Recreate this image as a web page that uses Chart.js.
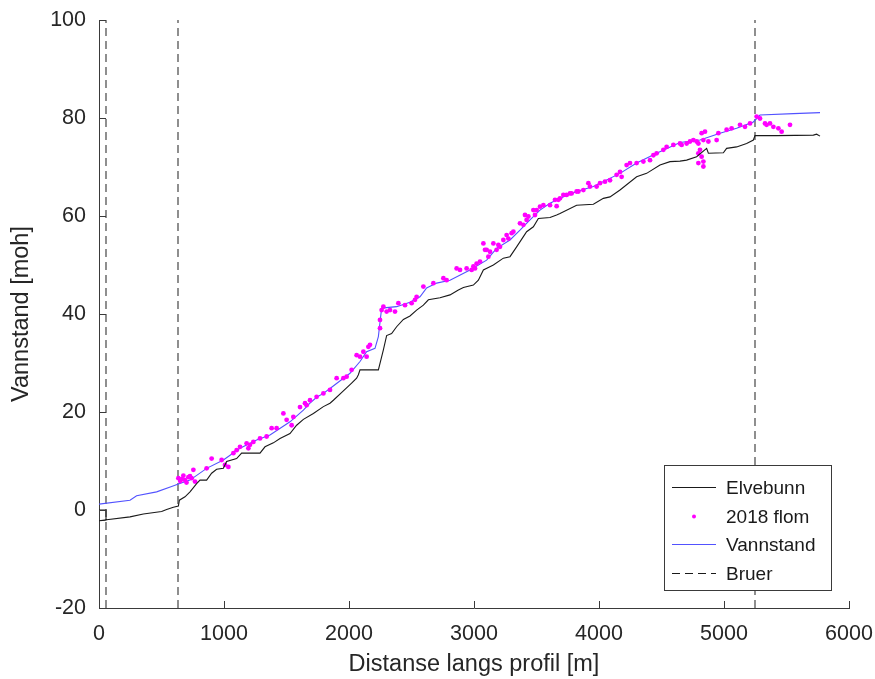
<!DOCTYPE html>
<html>
<head>
<meta charset="utf-8">
<script src="https://cdn.jsdelivr.net/npm/chart.js@4.4.1/dist/chart.umd.min.js"></script>
<style>
  html, body { margin: 0; padding: 0; background: #fff; }
  #wrap { width: 875px; height: 679px; }
</style>
</head>
<body>
<div id="wrap"><canvas id="profil" width="875" height="679"></canvas></div>
<script>
// Elvebunn (river bed)
const bedX = [0, 56, 56, 0, 61, 248, 355, 501, 541, 595, 635, 643, 688, 728, 781, 808, 861, 901, 941, 995,
  1021, 1101, 1141, 1288, 1328, 1395, 1448, 1528, 1581, 1635, 1715, 1795, 1848, 1875, 1955, 2021, 2061, 2075, 2088, 2235,
  2275, 2301, 2341, 2381, 2435, 2488, 2541, 2595, 2635, 2728, 2808, 2875, 2915, 2995, 3035, 3075, 3155, 3235, 3288, 3341,
  3395, 3421, 3475, 3515, 3608, 3661, 3688, 3821, 3955, 4035, 4088, 4168, 4301, 4381, 4488, 4568, 4648, 4701, 4781, 4861,
  4875, 4995, 5021, 5101, 5181, 5235, 5248, 5421, 5715, 5741, 5768];
const bedY = [0, 0, -2.1, -2.2, -2.0, -1.4, -0.8, -0.3, 0.1, 0.55, 0.8, 2.0, 2.7, 3.7, 5.4, 6.1, 6.1, 7.5, 8.3, 8.5,
  9.9, 10.5, 11.6, 11.6, 12.9, 13.7, 14.6, 15.6, 17.3, 18.5, 19.7, 21.1, 21.8, 22.4, 24.3, 25.9, 26.9, 27.6, 28.6, 28.6,
  32.7, 35.6, 36.0, 37.4, 38.9, 39.6, 40.8, 41.8, 42.9, 43.3, 43.9, 44.9, 45.4, 45.9, 46.9, 49.0, 50.0, 51.4, 51.7, 53.7,
  55.8, 56.8, 57.8, 59.5, 59.7, 60.2, 60.5, 62.2, 62.4, 63.6, 63.9, 65.3, 68.0, 68.7, 70.4, 71.1, 71.2, 71.4, 72.1, 73.8,
  72.8, 72.9, 73.8, 74.1, 74.8, 75.5, 76.4, 76.4, 76.5, 76.7, 76.3];

// Vannstand (water level)
const waterX = [0, 248, 301, 461, 581, 635, 728, 861, 995, 1128, 1261, 1368, 1528, 1635, 1688, 1741, 1795, 1848, 2008, 2088,
  2141, 2208, 2235, 2261, 2381, 2488, 2568, 2621, 2701, 2808, 2968, 3101, 3181, 3288, 3368, 3448, 3528, 3608, 3688, 3821,
  3955, 4168, 4301, 4461, 4648, 4808, 4968, 5101, 5235, 5288, 5555, 5768];
const waterY = [1.2, 2.0, 2.9, 3.7, 4.8, 5.3, 6.1, 8.5, 10.2, 12.6, 14.3, 15.3, 18.0, 20.4, 21.8, 23.0, 23.8, 24.8, 27.9, 30.3,
  32.3, 33.0, 35.4, 41.2, 41.5, 42.4, 43.5, 45.3, 46.3, 46.9, 49.0, 51.0, 53.4, 55.1, 57.1, 59.2, 61.2, 62.6, 63.6, 65.0,
  66.0, 68.7, 70.8, 72.8, 75.0, 75.5, 76.9, 77.9, 79.2, 80.6, 80.9, 81.1];

// 2018 flom (observed flood marks)
const floodX = [635, 650, 662, 675, 688, 700, 715, 728, 741, 755, 768, 861, 901, 981, 1008, 1035, 1075, 1101, 1128, 1181,
  1195, 1208, 1235, 1288, 1341, 1381, 1421, 1475, 1501, 1541, 1555, 1608, 1648, 1661, 1688, 1741, 1795, 1848, 1901, 1955,
  1981, 2021, 2061, 2088, 2115, 2141, 2155, 2168, 2248, 2248, 2261, 2275, 2301, 2328, 2368, 2395, 2448, 2501, 2528, 2541,
  2595, 2675, 2755, 2781, 2861, 2941, 2995, 3048, 3075, 3101, 3115, 3155, 3181, 3195, 3235, 3261, 3315, 3368, 3408, 3421,
  3475, 3488, 3528, 3608, 3661, 3675, 3715, 3768, 3821, 3875, 3915, 3928, 3981, 4008, 4048, 4088, 4141, 4168, 4181, 4221,
  4248, 4301, 4355, 4408, 4435, 4461, 4515, 4541, 4595, 4648, 4661, 4701, 4728, 4755, 4781, 4795, 4795, 4795, 4808, 4821,
  4821, 4835, 4835, 4835, 4848, 4875, 4941, 4955, 5021, 5061, 5128, 5168, 5208, 5261, 5288, 5328, 5341, 5368, 5395, 5435,
  5461, 5528,
  2888, 2981, 3008, 3021, 3088, 3128, 3208, 3275, 3301, 3395, 3435, 3501, 3555, 3648, 3688, 3741, 3781, 3835];
const floodY = [6.5, 5.9, 6.3, 7.0, 6.1, 5.6, 6.7, 6.9, 6.5, 8.2, 5.8, 8.5, 10.5, 10.2, 9.2, 8.8, 11.6, 12.2, 12.9, 13.6,
  12.6, 13.3, 13.9, 14.6, 15.0, 16.7, 16.7, 19.7, 18.4, 17.3, 19.0, 21.0, 21.8, 21.4, 22.4, 23.1, 23.8, 24.5, 26.9, 26.9,
  27.2, 28.6, 31.6, 31.3, 32.3, 31.3, 33.3, 33.7, 37.1, 38.8, 40.8, 41.5, 40.5, 40.8, 40.5, 42.2, 41.8, 42.2, 42.9, 43.5,
  45.6, 46.3, 47.3, 46.9, 49.3, 49.3, 49.7, 50.7, 54.4, 53.1, 51.7, 54.4, 53.1, 54.1, 55.1, 56.1, 56.8, 58.5, 60.2, 59.2,
  61.2, 60.2, 61.9, 62.2, 62.0, 63.3, 64.3, 64.6, 65.0, 65.3, 66.7, 66.0, 66.0, 66.7, 67.0, 67.3, 68.4, 69.0, 68.0, 70.4,
  70.8, 70.8, 71.1, 71.4, 72.4, 72.8, 73.5, 74.1, 74.5, 74.8, 74.5, 74.8, 75.2, 75.5, 75.2, 72.8, 70.8, 74.8, 73.5, 76.9,
  72.1, 75.5, 71.1, 70.1, 77.2, 75.2, 75.5, 76.9, 77.6, 77.9, 78.6, 78.2, 78.9, 80.3, 79.9, 78.9, 78.6, 78.9, 78.2, 77.9,
  77.2, 78.6,
  49.0, 49.0, 49.3, 50.3, 53.1, 52.7, 53.7, 55.4, 56.5, 58.2, 59.9, 61.2, 62.2, 63.3, 63.6, 64.3, 64.6, 65.0];

// Bruer (bridges)
const bridgeX = [56, 632, 5248];

const xTicks = [0, 1000, 2000, 3000, 4000, 5000, 6000];
const yTicks = [-20, 0, 20, 40, 60, 80, 100];

const legendLabels = ['Elvebunn', '2018 flom', 'Vannstand', 'Bruer'];

const toPoints = (xs, ys) => xs.map((x, i) => ({x: x, y: ys[i]}));

const axisColor = '#3a3a3a';
const textColor = '#262626';
const fontFamily = '"Liberation Sans", Arial, Helvetica, sans-serif';
const blue = '#5252ff';

let datasets = [
  {
    label: 'Elvebunn',
    data: toPoints(bedX, bedY),
    showLine: true,
    borderColor: '#1a1a1a',
    borderWidth: 1.1,
    pointRadius: 0,
    tension: 0
  },
  {
    label: '2018 flom',
    data: toPoints(floodX, floodY),
    showLine: false,
    backgroundColor: '#ff00ff',
    borderColor: '#ff00ff',
    pointRadius: 2.4,
    pointBorderWidth: 0
  },
  {
    label: 'Vannstand',
    data: toPoints(waterX, waterY),
    showLine: true,
    borderColor: blue,
    borderWidth: 1.1,
    pointRadius: 0,
    tension: 0
  }
];

bridgeX.forEach(bx => {
  datasets.push({
    label: 'Bruer',
    data: [{x: bx, y: yTicks[0]}, {x: bx, y: yTicks[yTicks.length - 1]}],
    showLine: true,
    borderColor: '#333333',
    borderWidth: 1.1,
    borderDash: [8, 5],
    pointRadius: 0
  });
});

// inward tick marks like the original plot
const tickMarks = {
  id: 'tickMarks',
  afterDatasetsDraw(chart) {
    const ctx = chart.ctx;
    const xs = chart.scales.x, ys = chart.scales.y;
    const area = chart.chartArea;
    ctx.save();
    ctx.strokeStyle = axisColor;
    ctx.lineWidth = 1;
    ctx.beginPath();
    xTicks.forEach(v => {
      const px = Math.round(xs.getPixelForValue(v)) + 0.5;
      ctx.moveTo(px, area.bottom);
      ctx.lineTo(px, area.bottom - 7);
    });
    yTicks.forEach(v => {
      const py = Math.round(ys.getPixelForValue(v)) + 0.5;
      ctx.moveTo(area.left, py);
      ctx.lineTo(area.left + 7, py);
    });
    ctx.stroke();
    ctx.restore();
  }
};

// legend box in the lower right corner
const boxLegend = {
  id: 'boxLegend',
  afterDraw(chart) {
    const ctx = chart.ctx;
    const left = 664, top = 465, w = 167, h = 125;
    ctx.save();
    ctx.fillStyle = '#ffffff';
    ctx.fillRect(left, top, w, h);
    ctx.strokeStyle = '#3a3a3a';
    ctx.lineWidth = 1;
    ctx.strokeRect(left + 0.5, top + 0.5, w, h);
    ctx.font = '19px ' + fontFamily;
    ctx.textBaseline = 'middle';
    ctx.fillStyle = '#1a1a1a';
    const rowY = [487, 516, 544, 573];
    legendLabels.forEach((txt, i) => {
      const y = rowY[i] + 0.5;
      ctx.save();
      if (i === 0 || i === 2 || i === 3) {
        ctx.beginPath();
        ctx.strokeStyle = i === 2 ? blue : '#1a1a1a';
        ctx.lineWidth = 1.1;
        if (i === 3) ctx.setLineDash([8, 5]);
        ctx.moveTo(672, y);
        ctx.lineTo(716, y);
        ctx.stroke();
      } else {
        ctx.beginPath();
        ctx.fillStyle = '#ff00ff';
        ctx.arc(694, y, 2, 0, Math.PI * 2);
        ctx.fill();
      }
      ctx.restore();
      ctx.fillText(txt, 726, y + 1);
    });
    ctx.restore();
  }
};

const chart = new Chart(document.getElementById('profil').getContext('2d'), {
  type: 'scatter',
  data: {datasets: datasets},
  options: {
    responsive: false,
    animation: false,
    layout: {padding: {left: 0, top: 20, right: 26, bottom: 0}},
    plugins: {
      legend: {display: false},
      tooltip: {enabled: false}
    },
    scales: {
      x: {
        type: 'linear',
        min: 0,
        max: 6000,
        afterBuildTicks: s => { s.ticks = xTicks.map(v => ({value: v})); },
        afterFit: s => { s.height = 71; s.paddingLeft = 0; s.paddingRight = 0; },
        grid: {display: false, drawTicks: false},
        border: {display: true, color: axisColor, width: 1},
        ticks: {color: textColor, font: {family: fontFamily, size: 21.5}, padding: 13, maxRotation: 0,
          callback: v => String(v)},
        title: {display: true, text: 'Distanse langs profil [m]', color: textColor,
          font: {family: fontFamily, size: 23.5}, padding: {top: 2, bottom: 0}}
      },
      y: {
        type: 'linear',
        min: -20,
        max: 100,
        afterBuildTicks: s => { s.ticks = yTicks.map(v => ({value: v})); },
        afterFit: s => { s.width = 99; s.paddingTop = 0; s.paddingBottom = 0; },
        grid: {display: false, drawTicks: false},
        border: {display: true, color: axisColor, width: 1},
        ticks: {color: textColor, font: {family: fontFamily, size: 21.5}, padding: 13,
          callback: v => String(v)},
        title: {display: true, text: 'Vannstand [moh]', color: textColor,
          font: {family: fontFamily, size: 23.5}, padding: {top: 7, bottom: 0}}
      }
    }
  },
  plugins: [tickMarks, boxLegend]
});
</script>
</body>
</html>
